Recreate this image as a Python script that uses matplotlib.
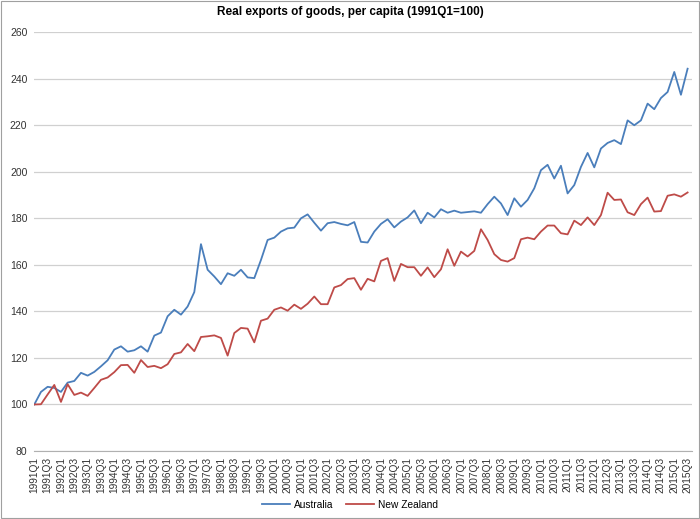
import matplotlib.pyplot as plt
import numpy as np
from matplotlib.lines import Line2D
from matplotlib.patches import Rectangle

plt.rcParams["font.family"] = ["Liberation Sans", "DejaVu Sans"]

# quarterly index, 1991Q1 = 100
quarters = [f"{y}Q{q}" for y in range(1991, 2016) for q in range(1, 5)][:99]

australia = [
    100.0, 105.4, 107.6, 107.1, 105.4, 109.4, 110.1, 113.6, 112.4, 114.0,
    116.4, 119.0, 123.6, 125.0, 122.7, 123.3, 125.0, 122.7, 129.6, 130.9,
    137.9, 140.7, 138.6, 142.1, 148.3, 168.9, 157.9, 155.0, 151.7, 156.4,
    155.3, 157.9, 154.6, 154.3, 162.1, 170.7, 171.7, 174.3, 175.7, 176.0,
    180.0, 181.7, 178.1, 174.7, 177.9, 178.4, 177.6, 177.0, 178.4, 169.9,
    169.6, 174.3, 177.6, 179.6, 176.1, 178.6, 180.4, 183.4, 177.9, 182.4,
    180.4, 183.9, 182.4, 183.3, 182.4, 182.7, 183.0, 182.4, 186.1, 189.3,
    186.4, 181.4, 188.6, 185.0, 187.9, 192.9, 200.7, 203.0, 197.1, 202.6,
    190.7, 194.3, 202.1, 208.1, 201.9, 210.0, 212.4, 213.6, 211.9, 222.1,
    220.0, 222.1, 229.3, 226.9, 231.7, 234.3, 242.9, 233.1, 244.3,
]

new_zealand = [
    100.0, 100.1, 104.3, 108.4, 101.1, 108.7, 104.1, 105.1, 103.7, 107.1,
    110.6, 111.6, 113.9, 116.9, 117.0, 113.6, 119.1, 116.1, 116.6, 115.6,
    117.3, 121.7, 122.4, 126.0, 122.9, 129.0, 129.3, 129.7, 128.6, 121.0,
    130.7, 132.9, 132.6, 126.7, 136.0, 136.9, 140.7, 141.7, 140.3, 142.9,
    141.1, 143.3, 146.4, 143.1, 143.1, 150.3, 151.3, 153.9, 154.3, 149.3,
    154.0, 152.9, 161.7, 162.9, 153.1, 160.4, 159.0, 159.0, 155.3, 158.9,
    154.7, 158.1, 166.7, 159.6, 165.7, 163.6, 166.0, 175.3, 170.7, 164.6,
    162.1, 161.4, 162.9, 171.0, 171.7, 171.0, 174.3, 176.9, 176.9, 173.6,
    173.1, 179.0, 177.1, 180.4, 177.1, 181.4, 191.0, 187.9, 188.1, 182.6,
    181.4, 186.1, 188.9, 182.9, 183.1, 189.7, 190.3, 189.3, 191.1,
]

fig = plt.figure(figsize=(7.0, 5.19), dpi=100)
ax = fig.add_axes([0.049, 0.131, 0.939, 0.807])

x = np.arange(len(quarters))
ax.plot(x, australia, color="#4a7ebb", linewidth=1.3, label="Australia")
ax.plot(x, new_zealand, color="#be4b48", linewidth=1.3, label="New Zealand")

ax.set_ylim(80, 260)
ax.set_yticks(np.arange(80, 261, 20))
ax.set_xlim(0, 98.6)
ax.set_xticks(x[::2])
ax.set_xticklabels(quarters[::2], rotation=90, fontsize=7.3)
ax.tick_params(axis="y", labelsize=7.5, length=0, pad=5, colors="#333333")
ax.tick_params(axis="x", length=0, pad=4, colors="#333333")
ax.grid(axis="y", color="#d0d0d0", linewidth=0.9)
ax.set_axisbelow(True)
for side in ["left", "right", "top"]:
    ax.spines[side].set_visible(False)
ax.spines["bottom"].set_color("#b0b0b0")

fig.text(0.5, 0.977, "Real exports of goods, per capita (1991Q1=100)",
         ha="center", va="center", fontsize=8.5, fontweight="bold")

handles = [
    Line2D([], [], color="#4a7ebb", linewidth=1.3),
    Line2D([], [], color="#be4b48", linewidth=1.3),
]
fig.legend(handles, ["Australia", "New Zealand"], loc="center",
           bbox_to_anchor=(0.5, 0.027), ncol=2, frameon=False, fontsize=7.3,
           handlelength=2.8, columnspacing=1.2, handletextpad=0.4)

fig.patches.append(Rectangle((0.001, 0.002), 0.997, 0.996, transform=fig.transFigure,
                             fill=False, edgecolor="#a0a0a0", linewidth=0.8))

fig.savefig("out.png", dpi=100)
